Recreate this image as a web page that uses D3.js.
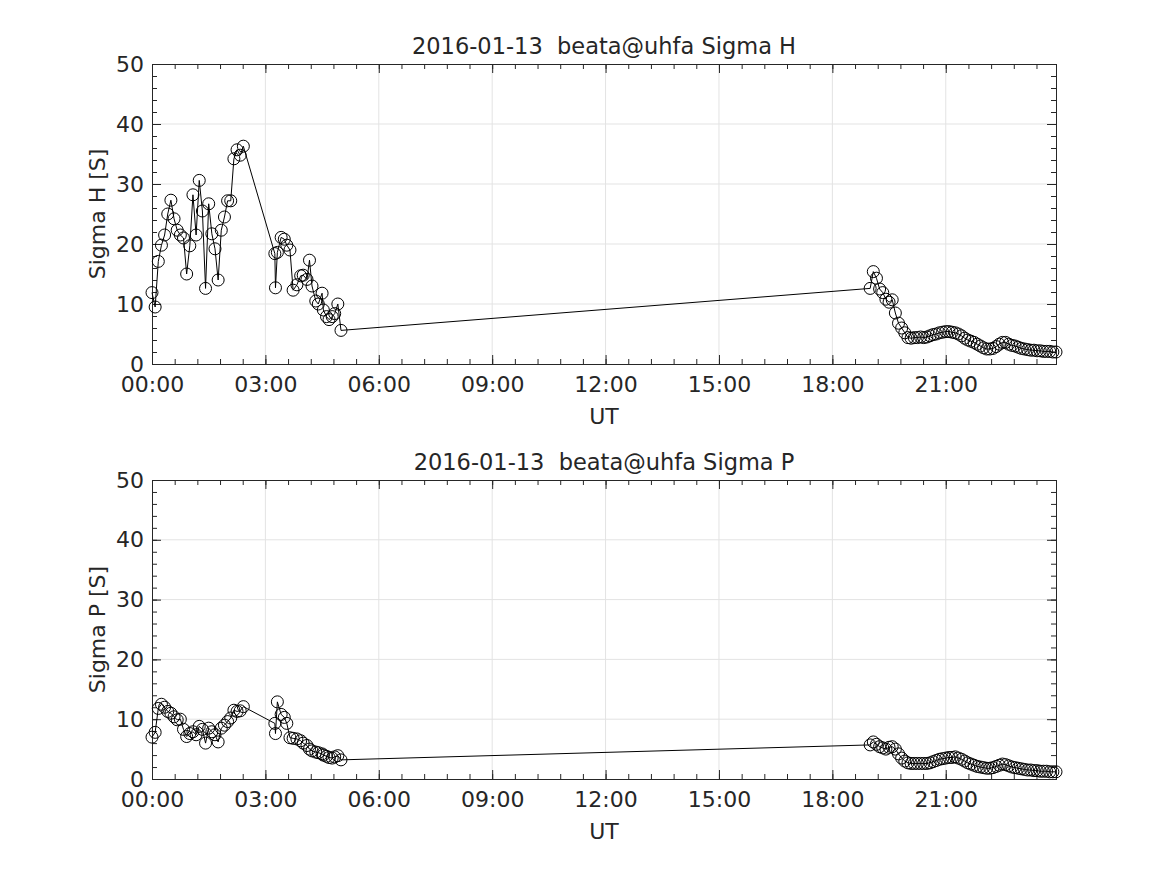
<!DOCTYPE html>
<html>
<head>
<meta charset="utf-8">
<script src="https://cdn.jsdelivr.net/npm/d3@7"></script>
<style>
  body { margin: 0; background: #fff; }
  svg { display: block; }
  text { font-family: "DejaVu Sans", sans-serif; fill: #262626; }
</style>
</head>
<body>
<svg></svg>
<script>
// minutes after 00:00 UT
const times = [
  0, 5, 10, 15, 20, 25, 30, 35, 40, 45, 50, 55, 60, 65, 70, 75, 80, 85, 90, 95,
  100, 105, 110, 115, 120, 125, 130, 135, 140, 145,
  195, 196, 199, 205, 210, 214, 219, 224, 230, 236, 240, 246, 250, 254, 260, 264,
  270, 272, 277, 281, 286, 290, 295, 300,
  1140, 1145, 1150, 1155, 1160, 1165, 1170, 1175, 1180, 1185, 1190, 1195, 1200, 1205,
  1210, 1215, 1220, 1225, 1230, 1235, 1240, 1245, 1250, 1255, 1260, 1265, 1270, 1275,
  1280, 1285, 1290, 1295, 1300, 1305, 1310, 1315, 1320, 1325, 1330, 1335, 1340, 1345,
  1350, 1355, 1360, 1365, 1370, 1375, 1380, 1385, 1390, 1395, 1400, 1405, 1410, 1415,
  1420, 1425, 1430, 1435
];

const sigmaH = [
  11.9, 9.5, 17.1, 19.8, 21.5, 25.0, 27.3, 24.2, 22.3, 21.5, 21.0, 15.0, 19.7, 28.2, 21.5,
  30.6, 25.5, 12.6, 26.7, 21.7, 19.2, 14.0, 22.3, 24.5, 27.2, 27.2, 34.2, 35.7, 34.8, 36.3,
  18.4, 12.7, 18.6, 21.1, 20.8, 19.8, 19.0, 12.3, 13.2, 14.7, 14.8, 14.1, 17.3, 13.0, 10.5,
  10.0, 11.8, 9.0, 7.9, 7.4, 7.9, 8.4, 10.0, 5.6,
  12.6, 15.4, 14.3, 12.5, 11.9, 10.8, 10.3, 10.7, 8.5, 6.8, 6.0, 5.2, 4.4, 4.3, 4.4,
  4.4, 4.5, 4.4, 4.5, 4.7, 4.9, 5.0, 5.2, 5.3, 5.4, 5.4, 5.3, 5.2, 5.0, 4.7,
  4.3, 4.0, 3.8, 3.6, 3.3, 3.0, 2.7, 2.5, 2.5, 2.6, 2.9, 3.3, 3.6, 3.6, 3.3,
  3.1, 3.0, 2.8, 2.6, 2.5, 2.4, 2.3, 2.3, 2.2, 2.2, 2.1, 2.1, 2.1, 2.0, 2.0
];

const sigmaP = [
  7.0, 7.8, 11.8, 12.5, 12.0, 11.3, 11.0, 10.4, 9.9, 10.0, 8.3, 7.1, 7.6, 7.9, 7.4,
  8.8, 8.3, 6.0, 8.5, 7.9, 7.4, 6.2, 8.5, 9.0, 9.6, 10.2, 11.5, 11.3, 11.4, 12.1,
  9.3, 7.6, 12.9, 10.8, 10.3, 9.3, 6.9, 6.8, 6.7, 6.4, 6.0, 5.6, 5.0, 4.7, 4.5,
  4.4, 4.2, 4.0, 3.8, 3.6, 3.5, 3.7, 3.9, 3.2,
  5.7, 6.2, 5.8, 5.4, 5.2, 5.0, 5.3, 5.4, 5.0, 4.2, 3.5, 3.0, 2.7, 2.6, 2.6,
  2.6, 2.6, 2.6, 2.6, 2.7, 2.9, 3.1, 3.3, 3.4, 3.5, 3.6, 3.6, 3.7, 3.5, 3.3,
  3.0, 2.7, 2.5, 2.3, 2.1, 2.0, 1.9, 1.8, 1.8, 1.9, 2.1, 2.3, 2.5, 2.4, 2.2,
  2.0, 1.9, 1.8, 1.7, 1.6, 1.5, 1.5, 1.4, 1.4, 1.3, 1.3, 1.3, 1.2, 1.2, 1.2
];

const xTicks = [0, 180, 360, 540, 720, 900, 1080, 1260];
const xTickLabels = ['00:00', '03:00', '06:00', '09:00', '12:00', '15:00', '18:00', '21:00'];
const xMinor = d3.range(0, 1436, 36);
const yTicks = [0, 10, 20, 30, 40, 50];
const yMinor = d3.range(0, 51, 2);

const titles = ['2016-01-13  beata@uhfa Sigma H', '2016-01-13  beata@uhfa Sigma P'];
const yLabels = ['Sigma H [S]', 'Sigma P [S]'];

const width = 1167, height = 875;
const svg = d3.select('svg').attr('width', width).attr('height', height);

const x = d3.scaleLinear().domain([0, 1435]).range([152, 1056]);

const panels = [
  {values: sigmaH, top: 64, bottom: 364},
  {values: sigmaP, top: 480, bottom: 779}
];

panels.forEach((p, i) => {
  const y = d3.scaleLinear().domain([0, 50]).range([p.bottom, p.top]);
  const g = svg.append('g');
  const ink = '#262626';

  // grid
  g.append('g').selectAll('line').data(xTicks.slice(1))
    .enter().append('line')
    .attr('x1', d => x(d)).attr('x2', d => x(d))
    .attr('y1', p.top).attr('y2', p.bottom)
    .attr('stroke', '#e3e3e3').attr('stroke-width', 1);
  g.append('g').selectAll('line').data(yTicks.slice(1, -1))
    .enter().append('line')
    .attr('y1', d => y(d)).attr('y2', d => y(d))
    .attr('x1', x.range()[0]).attr('x2', x.range()[1])
    .attr('stroke', '#e3e3e3').attr('stroke-width', 1);

  // axes, ticks inward on all sides
  const axX = g.append('g').attr('transform', `translate(0,${p.bottom})`)
    .call(d3.axisBottom(x).tickValues(xTicks).tickSize(-9).tickPadding(12)
      .tickFormat((d, k) => xTickLabels[k]));
  axX.selectAll('text').style('font-size', '22px');
  g.append('g').attr('transform', `translate(0,${p.bottom})`)
    .call(d3.axisBottom(x).tickValues(xMinor).tickSize(-5).tickFormat(''));
  g.append('g').attr('transform', `translate(0,${p.top})`)
    .call(d3.axisTop(x).tickValues(xTicks).tickSize(-9).tickFormat(''));
  g.append('g').attr('transform', `translate(0,${p.top})`)
    .call(d3.axisTop(x).tickValues(xMinor).tickSize(-5).tickFormat(''));

  const axY = g.append('g').attr('transform', `translate(${x.range()[0]},0)`)
    .call(d3.axisLeft(y).tickValues(yTicks).tickSize(-9).tickPadding(8));
  axY.selectAll('text').style('font-size', '22px');
  g.append('g').attr('transform', `translate(${x.range()[0]},0)`)
    .call(d3.axisLeft(y).tickValues(yMinor).tickSize(-5).tickFormat(''));
  g.append('g').attr('transform', `translate(${x.range()[1]},0)`)
    .call(d3.axisRight(y).tickValues(yTicks).tickSize(-9).tickFormat(''));
  g.append('g').attr('transform', `translate(${x.range()[1]},0)`)
    .call(d3.axisRight(y).tickValues(yMinor).tickSize(-5).tickFormat(''));

  g.selectAll('.domain').attr('stroke', ink);
  g.selectAll('.tick line').attr('stroke', ink);
  g.selectAll('.tick text').attr('fill', ink).style('font-family', '"DejaVu Sans", sans-serif');

  // data
  const pts = times.map((t, k) => [t, p.values[k]]);
  g.append('path')
    .datum(pts)
    .attr('fill', 'none')
    .attr('stroke', '#000')
    .attr('stroke-width', 1)
    .attr('d', d3.line().x(d => x(d[0])).y(d => y(d[1])));
  g.selectAll('circle').data(pts)
    .enter().append('circle')
    .attr('cx', d => x(d[0]))
    .attr('cy', d => y(d[1]))
    .attr('r', 6)
    .attr('fill', 'none')
    .attr('stroke', '#000')
    .attr('stroke-width', 1);

  // labels
  const midX = (x.range()[0] + x.range()[1]) / 2;
  g.append('text')
    .attr('x', midX).attr('y', p.top - 10)
    .attr('text-anchor', 'middle')
    .style('font-size', '22.5px')
    .style('white-space', 'pre')
    .text(titles[i]);
  g.append('text')
    .attr('x', midX).attr('y', p.bottom + 60)
    .attr('text-anchor', 'middle')
    .style('font-size', '22px')
    .text('UT');
  g.append('text')
    .attr('transform', `translate(105,${(p.top + p.bottom) / 2}) rotate(-90)`)
    .attr('text-anchor', 'middle')
    .style('font-size', '22px')
    .text(yLabels[i]);
});
</script>
</body>
</html>
